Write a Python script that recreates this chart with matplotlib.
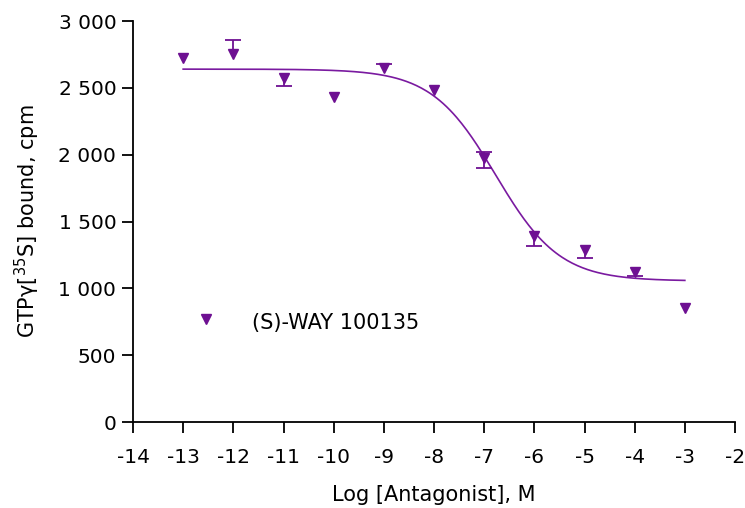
import numpy as np
import matplotlib
matplotlib.use("Agg")
import matplotlib.pyplot as plt

plt.rcParams['font.family'] = ['DejaVu Sans']
plt.rcParams['axes.unicode_minus'] = False
plt.rcParams['mathtext.fontset'] = 'dejavusans'

# Data
log_conc = [-13, -12, -11, -10, -9, -8, -7, -6, -5, -4, -3]
cpm = [2720, 2755, 2575, 2430, 2645, 2483, 1975, 1390, 1285, 1120, 853]
err_low = [0, 0, 60, 0, 0, 0, 75, 75, 60, 25, 0]
err_high = [0, 105, 0, 0, 30, 0, 45, 0, 0, 0, 0]

# Fitted curve parameters (sigmoidal dose-response)
top, bottom, log_ic50, hill = 2640, 1055, -6.77, 0.68
fit_range = (-13, -3)

xticks = list(range(-14, -1))
yticks = [0, 500, 1000, 1500, 2000, 2500, 3000]
ytick_labels = ['0', '500', '1 000', '1 500', '2 000', '2 500', '3 000']

series_label = '(S)-WAY 100135'
xlabel = 'Log [Antagonist], M'
ylabel = r'GTPγ[$\mathregular{^{35}}$S] bound, cpm'

purple = '#7a1aa0'
marker_purple = '#6e1092'
fs = 14.5

fig = plt.figure(figsize=(7.45, 5.08), dpi=100)
x0, x1 = 133 / 745, 735 / 745
y0, y1 = (508 - 422) / 508, (508 - 21) / 508
ax = fig.add_axes([x0, y0, x1 - x0, y1 - y0])

xf = np.linspace(fit_range[0], fit_range[1], 300)
yf = bottom + (top - bottom) / (1 + 10 ** (hill * (xf - log_ic50)))
ax.plot(xf, yf, color=purple, lw=1.2, zorder=2)

# One-sided error bars (only the drawn side), built from the data arrays
xa = np.array(log_conc, dtype=float)
ya = np.array(cpm, dtype=float)
el = np.array(err_low, dtype=float)
eh = np.array(err_high, dtype=float)
for err, sign in ((el, -1), (eh, 1)):
    m = err > 0
    ends = ya[m] + sign * err[m]
    ax.vlines(xa[m], ya[m], ends, color=marker_purple, lw=1.3, zorder=3)
    ax.plot(xa[m], ends, linestyle='none', marker='_', markersize=12,
            markeredgewidth=1.3, color=marker_purple, zorder=3)

ax.plot(xa, ya, linestyle='none', marker='v', markersize=7.5,
        color=marker_purple, markeredgecolor=marker_purple, zorder=4)

ax.set_xlim(-14, -2)
ax.set_ylim(0, 3000)
ax.set_xticks(xticks)
ax.set_xticklabels([str(t) for t in xticks])
ax.set_yticks(yticks)
ax.set_yticklabels(ytick_labels)

for s in ['top', 'right']:
    ax.spines[s].set_visible(False)
for s in ['left', 'bottom']:
    ax.spines[s].set_linewidth(1.3)
ax.tick_params(axis='both', direction='out', length=8, width=1.3,
               labelsize=fs, pad=4)
ax.tick_params(axis='x', pad=11)

ax.set_xlabel(xlabel, fontsize=fs + 0.5, labelpad=13)
ax.set_ylabel(ylabel, fontsize=fs + 0.5, labelpad=12)

# Legend drawn manually in axes coordinates
ax.plot([0.122], [0.256], transform=ax.transAxes, linestyle='none',
        marker='v', markersize=7.5, color=marker_purple, clip_on=False)
ax.text(0.197, 0.248, series_label, transform=ax.transAxes,
        fontsize=fs + 0.5, va='center', ha='left')

fig.savefig('out.png', dpi=100)
